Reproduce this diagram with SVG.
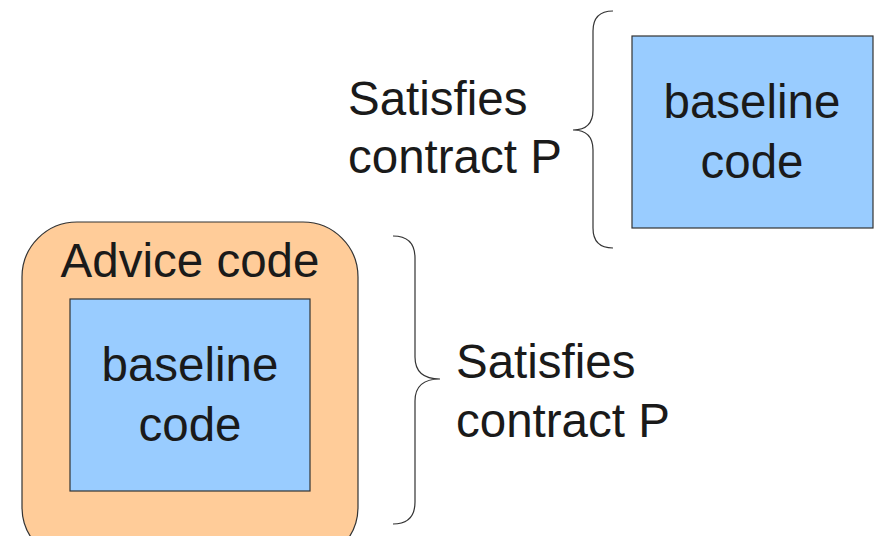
<svg xmlns="http://www.w3.org/2000/svg" width="875" height="536" viewBox="0 0 875 536">
<style>
text{font-family:"Liberation Sans",Arial,sans-serif;font-size:47.5px;fill:#1a1a1a}
.c{text-anchor:middle}
.blue{fill:#99ccff;stroke:#333;stroke-width:1.2}
.orange{fill:#ffcc99;stroke:#333;stroke-width:1.2}
.brace{fill:none;stroke:#333;stroke-width:1.2}
</style>
<rect width="875" height="536" fill="#fff"/>
<g id="advice">
<rect class="orange" x="22" y="222" width="336" height="340" rx="55" ry="55"/>
<text class="c" x="190" y="277">Advice code</text>
</g>
<g id="baseline-inner">
<rect class="blue" x="70" y="299" width="240" height="192"/>
<text class="c" x="190" y="381">baseline</text>
<text class="c" x="190" y="441">code</text>
</g>
<g id="baseline-top">
<rect class="blue" x="632" y="36" width="241" height="192"/>
<text class="c" x="752" y="118">baseline</text>
<text class="c" x="752" y="178">code</text>
</g>
<g id="label-top">
<text x="348" y="115">Satisfies</text>
<text x="348" y="173">contract P</text>
</g>
<g id="label-bottom">
<text x="456" y="378">Satisfies</text>
<text x="456" y="437">contract P</text>
</g>
<g id="connectors">
<path class="brace" d="M613,11 Q593,11 593,31 L593,110 Q593,130 573,130 Q593,130 593,150 L593,228 Q593,248 613,248"/>
<path class="brace" d="M393,236 Q415,236 415,258 L415,357 Q415,379 440,379 Q415,379 415,401 L415,502 Q415,524 393,524"/>
</g>
</svg>
